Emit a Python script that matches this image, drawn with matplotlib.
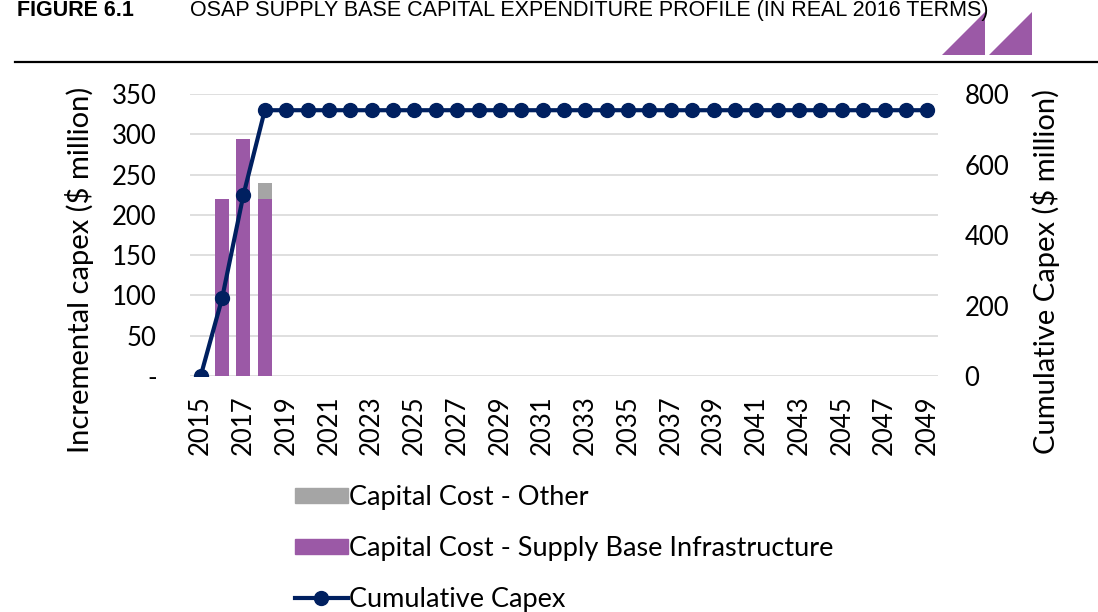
import numpy as np
import matplotlib
matplotlib.use("Agg")
import matplotlib.pyplot as plt
from matplotlib.patches import Polygon, Patch
from matplotlib.lines import Line2D

years = list(range(2015, 2050))
supply_base = [0, 220, 294, 220] + [0] * 31
other = [0, 0, 0, 20] + [0] * 31
cumulative = np.cumsum(np.array(supply_base) + np.array(other))

left_ticks = [0, 50, 100, 150, 200, 250, 300, 350]
left_labels = ["-", "50", "100", "150", "200", "250", "300", "350"]
right_ticks = [0, 200, 400, 600, 800]

PURPLE = "#9B59A6"
GREY = "#A5A5A5"
NAVY = "#002060"

plt.rcParams['font.family'] = ['Lato', 'DejaVu Sans']

W, H = 1098, 612
fig = plt.figure(figsize=(W / 100, H / 100), dpi=100)
ax = fig.add_axes([190 / W, 1 - 376 / H, (938 - 190) / W, (376 - 94) / H])

x = np.arange(len(years))
ax.bar(x, supply_base, width=0.66, color=PURPLE, zorder=2)
ax.bar(x, other, width=0.66, bottom=supply_base, color=GREY, zorder=2)
ax.set_xlim(-0.5, len(years) - 0.5)
ax.set_ylim(0, 350)
ax.set_yticks(left_ticks)
ax.set_yticklabels(left_labels)
ax.yaxis.grid(True, color="#D9D9D9", lw=1.2, zorder=0)
ax.set_axisbelow(True)
ax.set_xticks(x[::2])
ax.set_xticklabels([str(y) for y in years[::2]], rotation=90)
ax.tick_params(axis="both", length=0, labelsize=18.5, pad=14)
ax.tick_params(axis="y", pad=24)
for s in ax.spines.values():
    s.set_visible(False)

ax2 = ax.twinx()
ax2.plot(x, cumulative, color=NAVY, lw=3, marker="o", markersize=10)
ax2.set_ylim(0, 800)
ax2.set_yticks(right_ticks)
ax2.tick_params(axis="y", length=0, labelsize=18.5, pad=19)
for s in ax2.spines.values():
    s.set_visible(False)

fig.text(80 / W, 1 - 270 / H, "Incremental capex ($ million)", fontsize=21,
         rotation=90, ha="center", va="center")
fig.text(1045 / W, 1 - 271 / H, "Cumulative Capex ($ million)", fontsize=21,
         rotation=90, ha="center", va="center")

handles = [
    Patch(color=GREY, label="Capital Cost - Other"),
    Patch(color=PURPLE, label="Capital Cost - Supply Base Infrastructure"),
    Line2D([], [], color=NAVY, lw=3, marker="o", markersize=10, label="Cumulative Capex"),
]
fig.legend(handles=handles, loc="upper left", bbox_to_anchor=(284 / W, 1 - 474 / H),
           frameon=False, fontsize=19.5, handlelength=1.95, handleheight=0.5,
           handletextpad=0.05, labelspacing=0.96, borderaxespad=0)

# header
hdr_font = ["Liberation Sans Narrow", "Liberation Sans"]
fig.text(17 / W, 1 - 16 / H, "FIGURE 6.1", fontsize=15.5, fontweight="bold",
         family=hdr_font, va="baseline")
fig.text(190 / W, 1 - 16 / H,
         "OSAP SUPPLY BASE CAPITAL EXPENDITURE PROFILE (IN REAL 2016 TERMS)",
         fontsize=15.5, family=hdr_font, va="baseline")
fig.add_artist(Line2D([15 / W, 1], [1 - 62 / H] * 2, color="black", lw=1.6,
                      transform=fig.transFigure))
for x0 in (942, 989):
    tri = Polygon([(x0 / W, 1 - 55 / H), ((x0 + 43) / W, 1 - 55 / H),
                   ((x0 + 43) / W, 1 - 12 / H)], closed=True,
                  transform=fig.transFigure, color=PURPLE, lw=0)
    fig.add_artist(tri)

fig.savefig("out.png", dpi=100)
